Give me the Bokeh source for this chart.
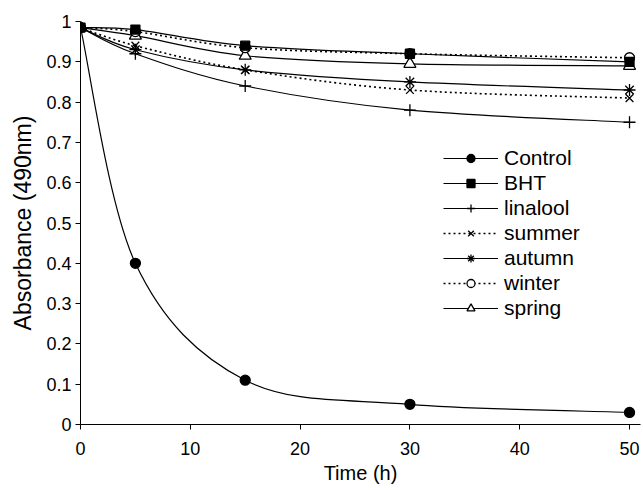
from bokeh.plotting import figure
from bokeh.models import Legend, LegendItem, FixedTicker, ColumnDataSource, Range1d
from bokeh.embed import file_html
from bokeh.resources import INLINE

# ---- data ----
time_h = [0, 5, 15, 30, 50]
control = [0.985, 0.40, 0.11, 0.05, 0.03]
bht = [0.985, 0.98, 0.94, 0.92, 0.90]
linalool = [0.985, 0.92, 0.84, 0.78, 0.75]
summer = [0.985, 0.94, 0.88, 0.83, 0.81]
autumn = [0.985, 0.93, 0.88, 0.85, 0.83]
winter = [0.985, 0.975, 0.935, 0.92, 0.91]
spring = [0.985, 0.965, 0.915, 0.895, 0.89]

series_names = ["Control", "BHT", "linalool", "summer", "autumn", "winter", "spring"]
series_values = [control, bht, linalool, summer, autumn, winter, spring]

x_ticks = [0, 10, 20, 30, 40, 50]
y_ticks = [0, 0.1, 0.2, 0.3, 0.4, 0.5, 0.6, 0.7, 0.8, 0.9, 1.0]
y_tick_labels = ["0", "0.1", "0.2", "0.3", "0.4", "0.5", "0.6", "0.7", "0.8", "0.9", "1"]

# ---- styles ----
styles = {
    "Control": dict(marker="circle", fill="black", size=10, dash="solid", lw=1.2),
    "BHT": dict(marker="square", fill="black", size=9, dash="solid", lw=1.2),
    "linalool": dict(marker="cross", fill="black", size=12, dash="solid", lw=1.2),
    "summer": dict(marker="x", fill="black", size=11, dash="2 3", lw=1.6),
    "autumn": dict(marker="asterisk", fill="black", size=12, dash="solid", lw=1.2),
    "winter": dict(marker="circle", fill="white", size=10, dash="2 3", lw=1.6),
    "spring": dict(marker="triangle", fill="white", size=12, dash="solid", lw=1.2),
}

FONT = "Liberation Sans"

p = figure(width=643, height=490, output_backend="svg", toolbar_location=None,
           x_range=Range1d(0, 51), y_range=Range1d(0, 1.0),
           min_border_left=80, min_border_right=3, min_border_top=21, min_border_bottom=66)
p.outline_line_color = None
p.xgrid.visible = False
p.ygrid.visible = False
p.background_fill_color = "white"

for ax in (p.xaxis[0], p.yaxis[0]):
    ax.axis_line_color = "black"
    ax.axis_line_width = 1
    ax.major_tick_line_color = "black"
    ax.major_tick_in = 0
    ax.major_tick_out = 5
    ax.minor_tick_line_color = None
    ax.major_label_text_font = FONT
    ax.major_label_text_font_size = "18px"
    ax.major_label_text_color = "black"
    ax.axis_label_text_font = FONT
    ax.axis_label_text_font_style = "normal"
    ax.axis_label_text_color = "black"

p.xaxis.axis_label_text_font_size = "20px"
p.yaxis.axis_label_text_font_size = "23px"
p.xaxis.ticker = FixedTicker(ticks=x_ticks)
p.yaxis.ticker = FixedTicker(ticks=y_ticks)
p.yaxis.major_label_overrides = {t: l for t, l in zip(y_ticks, y_tick_labels)}
p.xaxis.axis_label = "Time (h)"
p.yaxis.axis_label = "Absorbance (490nm)"
p.xaxis.major_label_standoff = 12
p.xaxis.axis_label_standoff = 4
p.yaxis.major_label_standoff = 4
p.yaxis.axis_label_standoff = 7


def smooth_segments(xs, ys):
    """Cubic Bezier control points (Catmull-Rom style, like Excel smoothed lines)."""
    n = len(xs)
    out = dict(x0=[], y0=[], x1=[], y1=[], cx0=[], cy0=[], cx1=[], cy1=[])
    for i in range(n - 1):
        xm = xs[i - 1] if i > 0 else xs[i]
        ym = ys[i - 1] if i > 0 else ys[i]
        xp = xs[i + 2] if i + 2 < n else xs[i + 1]
        yp = ys[i + 2] if i + 2 < n else ys[i + 1]
        out["x0"].append(xs[i]); out["y0"].append(ys[i])
        out["x1"].append(xs[i + 1]); out["y1"].append(ys[i + 1])
        out["cx0"].append(xs[i] + (xs[i + 1] - xm) / 6.0)
        out["cy0"].append(ys[i] + (ys[i + 1] - ym) / 6.0)
        out["cx1"].append(xs[i + 1] - (xp - xs[i]) / 6.0)
        out["cy1"].append(ys[i + 1] - (yp - ys[i]) / 6.0)
    return out


items = []
draw_order = list(zip(series_names, series_values))[::-1]
renderers = {}
for name, vals in draw_order:
    st = styles[name]
    src = ColumnDataSource(smooth_segments(time_h, vals))
    lr = p.bezier(x0="x0", y0="y0", x1="x1", y1="y1", cx0="cx0", cy0="cy0",
                  cx1="cx1", cy1="cy1", source=src, line_color="black",
                  line_width=st["lw"], line_dash=st["dash"])
    sr = p.scatter(time_h, vals, marker=st["marker"], size=st["size"],
                   fill_color=st["fill"], line_color="black", line_width=1.3)
    renderers[name] = (lr, sr)

for name in series_names:
    items.append(LegendItem(label=name, renderers=list(renderers[name])))

legend = Legend(items=items, location=(363, 104), orientation="vertical",
                glyph_width=55, glyph_height=20, label_height=20, spacing=1,
                label_standoff=6, padding=0, margin=0,
                border_line_color=None, background_fill_alpha=0,
                label_text_font=FONT, label_text_font_size="21px",
                label_text_color="black")
p.add_layout(legend, "center")

open("out.html", "w").write(file_html(p, INLINE))
